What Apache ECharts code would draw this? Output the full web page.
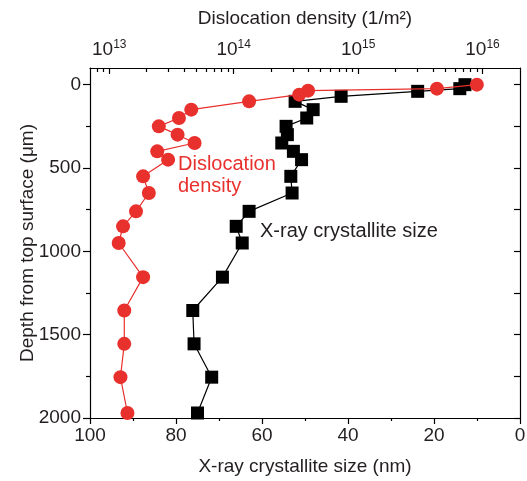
<!DOCTYPE html>
<html>
<head>
<meta charset="utf-8">
<script src="https://cdn.jsdelivr.net/npm/echarts@6/dist/echarts.min.js"></script>
<style>
    html, body { margin: 0; padding: 0; background: #fff; }
    #chart { width: 527px; height: 481px; }
</style>
</head>
<body>
<div id="chart"></div>
<script>
// depth (um) of each measured layer
const depthSize = [0, 24, 40, 70, 100, 150, 200, 250, 300, 350, 400, 450, 550, 650, 760, 850, 950, 1155, 1355, 1555, 1755, 1970];
const crystalliteSize = [12.8, 14.0, 23.8, 41.6, 52.3, 48.1, 49.6, 54.4, 54.1, 55.4, 52.7, 50.8, 53.3, 53.0, 63.0, 66.0, 64.6, 69.2, 76.1, 75.8, 71.7, 75.0];

const depthDensity = [0, 24, 36, 60, 100, 150, 200, 250, 300, 350, 400, 450, 550, 650, 760, 850, 950, 1155, 1355, 1555, 1755, 1970];
const dislocationDensity = [9.0e15, 4.3e15, 3.96e14, 3.36e14, 1.33e14, 4.56e13, 3.63e13, 2.5e13, 3.54e13, 4.85e13, 2.43e13, 2.97e13, 1.87e13, 2.08e13, 1.64e13, 1.29e13, 1.19e13, 1.87e13, 1.32e13, 1.32e13, 1.23e13, 1.40e13];

// tick labels
const densityTicks = [1e13, 1e14, 1e15, 1e16];
const densityMinorTicks = [8e12, 9e12,
    2e13, 3e13, 4e13, 5e13, 6e13, 7e13, 8e13, 9e13,
    2e14, 3e14, 4e14, 5e14, 6e14, 7e14, 8e14, 9e14,
    2e15, 3e15, 4e15, 5e15, 6e15, 7e15, 8e15, 9e15];
const depthTicks = [0, 500, 1000, 1500, 2000];
const depthMinorTicks = [250, 750, 1250, 1750];
const depthRightTicks = [0, 250, 500, 750, 1000, 1250, 1500, 1750, 2000];

const FONT = '"Liberation Sans", Arial, Helvetica, sans-serif';
const RED = '#e8302d';
const TEXT = '#231f20';

const chart = echarts.init(document.getElementById('chart'));

const lineStyle = { color: '#000', width: 1.2 };

chart.setOption({
    animation: false,
    textStyle: { fontFamily: FONT },
    grid: { left: 90, right: 7, top: 68, bottom: 63, outerBoundsMode: 'none', containLabel: false },
    xAxis: [
        {
            type: 'value',
            position: 'bottom',
            inverse: true,
            min: 0,
            max: 100,
            interval: 20,
            name: 'X-ray crystallite size (nm)',
            nameLocation: 'middle',
            nameGap: 39,
            nameMoveOverlap: false,
            nameTextStyle: { fontSize: 19, color: TEXT, fontFamily: FONT },
            axisLine: { onZero: false, lineStyle: lineStyle },
            axisTick: { length: 6, inside: false, lineStyle: lineStyle },
            minorTick: { show: true, splitNumber: 2, length: 3, lineStyle: lineStyle },
            axisLabel: { fontSize: 19, color: TEXT, margin: 8, fontFamily: FONT },
            splitLine: { show: false }
        },
        {
            type: 'log',
            logBase: 10,
            position: 'top',
            min: 7e12,
            max: 2e16,
            name: 'Dislocation density (1/m²)',
            nameLocation: 'middle',
            nameGap: 40,
            nameMoveOverlap: false,
            nameTextStyle: { fontSize: 19, color: TEXT, fontFamily: FONT },
            axisLine: { onZero: false, lineStyle: lineStyle },
            axisTick: { inside: true, length: 6, customValues: densityTicks, lineStyle: lineStyle },
            axisLabel: {
                customValues: densityTicks,
                margin: 7,
                formatter(v) {
                    return '{b|10}{s|' + Math.round(Math.log10(v)) + '}';
                },
                rich: {
                    b: { fontSize: 19, color: TEXT, fontFamily: FONT, lineHeight: 22 },
                    s: { fontSize: 12, color: TEXT, fontFamily: FONT, verticalAlign: 'top', lineHeight: 14 }
                }
            },
            splitLine: { show: false }
        },
        {
            type: 'log',
            logBase: 10,
            position: 'top',
            min: 7e12,
            max: 2e16,
            axisLine: { show: false, onZero: false },
            axisTick: { inside: true, length: 4, customValues: densityMinorTicks, lineStyle: lineStyle },
            axisLabel: { show: false },
            splitLine: { show: false }
        }
    ],
    yAxis: [
        {
            type: 'value',
            position: 'left',
            inverse: true,
            min: -100,
            max: 2000,
            name: 'Depth from top surface (μm)',
            nameLocation: 'middle',
            nameRotate: 90,
            nameGap: 53,
            nameMoveOverlap: false,
            nameTextStyle: { fontSize: 19, color: TEXT, fontFamily: FONT },
            axisLine: { show: true, onZero: false, lineStyle: lineStyle },
            axisTick: { length: 7, customValues: depthTicks, lineStyle: lineStyle },
            axisLabel: {
                customValues: depthTicks,
                fontSize: 19,
                color: TEXT,
                margin: 9,
                fontFamily: FONT,
                formatter: (v) => String(v)
            },
            splitLine: { show: false }
        },
        {
            type: 'value',
            position: 'left',
            inverse: true,
            min: -100,
            max: 2000,
            axisLine: { show: false, onZero: false },
            axisTick: { length: 4, customValues: depthMinorTicks, lineStyle: lineStyle },
            axisLabel: { show: false },
            splitLine: { show: false }
        },
        {
            type: 'value',
            position: 'right',
            inverse: true,
            min: -100,
            max: 2000,
            axisLine: { show: true, onZero: false, lineStyle: lineStyle },
            axisTick: { inside: true, length: 6, customValues: depthRightTicks, lineStyle: lineStyle },
            axisLabel: { show: false },
            splitLine: { show: false }
        }
    ],
    series: [
        {
            name: 'X-ray crystallite size',
            type: 'line',
            xAxisIndex: 0,
            yAxisIndex: 0,
            data: crystalliteSize.map((v, i) => [v, depthSize[i]]),
            symbol: 'rect',
            symbolSize: 13,
            itemStyle: { color: '#000' },
            lineStyle: { color: '#000', width: 1.2 },
            z: 2
        },
        {
            name: 'Dislocation density',
            type: 'line',
            xAxisIndex: 1,
            yAxisIndex: 0,
            data: dislocationDensity.map((v, i) => [v, depthDensity[i]]),
            symbol: 'circle',
            symbolSize: 14,
            itemStyle: { color: RED },
            lineStyle: { color: RED, width: 1.2 },
            z: 3
        }
    ],
    graphic: [
        {
            type: 'text', left: 178, top: 153,
            style: { text: 'Dislocation\ndensity', fill: RED, font: '20px ' + FONT, lineHeight: 22 }
        },
        {
            type: 'text', left: 260, top: 221,
            style: { text: 'X-ray crystallite size', fill: TEXT, font: '20px ' + FONT }
        }
    ]
});
</script>
</body>
</html>
